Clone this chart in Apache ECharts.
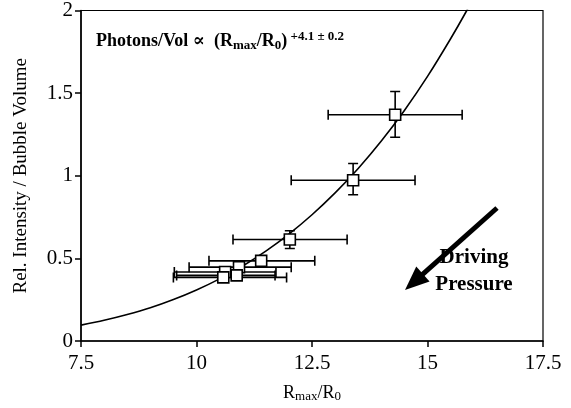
<!DOCTYPE html>
<html>
<head>
<meta charset="utf-8">
<script src="https://cdn.jsdelivr.net/npm/echarts@6/dist/echarts.min.js"></script>
<style>html,body{margin:0;padding:0;background:#fff}#c{width:571px;height:408px}</style>
</head>
<body>
<div id="c"></div>
<script>
// Measured points (Rmax/R0, relative intensity / bubble volume)
const ptX   = [14.30, 13.39, 12.02, 11.40, 10.92, 10.62, 10.87, 10.58];
const ptY   = [1.369, 0.973, 0.614, 0.485, 0.447, 0.418, 0.397, 0.385];
const xLow  = [12.85, 12.05, 10.79, 10.27, 9.84, 9.52, 9.57, 9.50];
const xHigh = [15.75, 14.73, 13.26, 12.56, 12.05, 11.72, 11.70, 11.95];
const yLow  = [1.233, 0.885, 0.560, 0.465, 0.427, 0.398, 0.377, 0.365];
const yHigh = [1.510, 1.074, 0.667, 0.505, 0.467, 0.438, 0.417, 0.405];

// Fitted power-law curve
const curveX = [7.5, 8.0, 8.5, 9.0, 9.5, 10.0, 10.5, 11.0, 11.5, 12.0, 12.5, 13.0, 13.5, 14.0, 14.5, 15.0, 15.5, 15.85, 16.0];
const curveY = [0.096, 0.125, 0.160, 0.201, 0.251, 0.309, 0.376, 0.454, 0.544, 0.647, 0.764, 0.896, 1.044, 1.210, 1.395, 1.601, 1.829, 2.0, 2.08];

const xTicks = [7.5, 10, 12.5, 15, 17.5];
const yTicks = [0, 0.5, 1, 1.5, 2];

const SERIF = '"Liberation Serif","DejaVu Serif",serif';

const chart = echarts.init(document.getElementById('c'), null, {renderer: 'canvas'});

const errData = ptX.map((x, i) => [x, ptY[i], xLow[i], xHigh[i], yLow[i], yHigh[i]]);
const ptData = ptX.map((x, i) => [x, ptY[i]]);
const curveData = curveX.map((x, i) => [x, curveY[i]]);

function renderErr(params, api) {
  const x = api.value(0), y = api.value(1);
  const pL = api.coord([api.value(2), y]);
  const pR = api.coord([api.value(3), y]);
  const pT = api.coord([x, api.value(5)]);
  const pB = api.coord([x, api.value(4)]);
  const c = 5;
  const st = {stroke: '#000', lineWidth: 1.6};
  const ln = (x1, y1, x2, y2) => ({type: 'line', shape: {x1, y1, x2, y2}, style: st});
  return {
    type: 'group',
    children: [
      ln(pL[0], pL[1], pR[0], pR[1]),
      ln(pL[0], pL[1] - c, pL[0], pL[1] + c),
      ln(pR[0], pR[1] - c, pR[0], pR[1] + c),
      ln(pT[0], pT[1], pB[0], pB[1]),
      ln(pT[0] - c, pT[1], pT[0] + c, pT[1]),
      ln(pB[0] - c, pB[1], pB[0] + c, pB[1])
    ]
  };
}

// Arrow geometry (annotation)
const tail = [497, 208], tip = [405, 290];
const dx = tip[0] - tail[0], dy = tip[1] - tail[1];
const L = Math.hypot(dx, dy), ux = dx / L, uy = dy / L;
const headLen = 24, headHalf = 10;
const base = [tip[0] - ux * headLen, tip[1] - uy * headLen];
const px = -uy, py = ux;

chart.setOption({
  animation: false,
  backgroundColor: '#fff',
  grid: {left: 81, right: 28, top: 10, bottom: 59, show: true, borderColor: '#000', borderWidth: 1.2, backgroundColor: 'transparent'},
  xAxis: {
    type: 'value', min: 7.5, max: 17.5, interval: 2.5,
    name: '{r|R}{s|max}{r|/R}{s|0}', nameLocation: 'middle', nameGap: 42,
    nameTextStyle: {rich: {
      r: {fontFamily: SERIF, fontSize: 18, color: '#000', lineHeight: 20},
      s: {fontFamily: SERIF, fontSize: 13, color: '#000', lineHeight: 12, verticalAlign: 'bottom'}
    }},
    axisLine: {onZero: false, lineStyle: {color: '#000', width: 1.5}},
    axisTick: {show: true, length: 6, inside: false, lineStyle: {color: '#000', width: 1.5}},
    splitLine: {show: false},
    axisLabel: {fontFamily: SERIF, fontSize: 21, color: '#000', margin: 12,
      formatter: v => xTicks.includes(v) ? String(v) : ''}
  },
  yAxis: {
    type: 'value', min: 0, max: 2, interval: 0.5,
    name: 'Rel. Intensity / Bubble Volume', nameLocation: 'middle', nameGap: 50,
    nameTextStyle: {fontFamily: SERIF, fontSize: 19, color: '#000'},
    axisLine: {show: true, onZero: false, lineStyle: {color: '#000', width: 1.5}},
    axisTick: {show: true, length: 6, lineStyle: {color: '#000', width: 1.5}},
    splitLine: {show: false},
    axisLabel: {fontFamily: SERIF, fontSize: 21, color: '#000', margin: 8,
      formatter: v => yTicks.includes(v) ? String(v) : ''}
  },
  series: [
    {
      type: 'line', data: curveData, smooth: 0.3, showSymbol: false, symbol: 'none',
      clip: true, lineStyle: {color: '#000', width: 1.6}, z: 2
    },
    {
      type: 'custom', data: errData, renderItem: renderErr, clip: true, z: 3,
      encode: {x: 0, y: 1}
    },
    {
      type: 'scatter', data: ptData, symbol: 'rect', symbolSize: 11, z: 4,
      itemStyle: {color: '#fff', borderColor: '#000', borderWidth: 1.6, opacity: 1}
    }
  ],
  graphic: [
    {
      type: 'text', left: 96, top: 30, z: 10,
      style: {
        text: '{b|Photons/Vol \u221D  (R}{sb|max}{b|/R}{sb|0}{b|)}{sp| +4.1 \u00B1 0.2}',
        rich: {
          b: {fontFamily: SERIF, fontWeight: 'bold', fontSize: 18, color: '#000', lineHeight: 22},
          sb: {fontFamily: SERIF, fontWeight: 'bold', fontSize: 13, color: '#000', lineHeight: 13, verticalAlign: 'bottom'},
          sp: {fontFamily: SERIF, fontWeight: 'bold', fontSize: 13, color: '#000', lineHeight: 13, verticalAlign: 'top'}
        }
      }
    },
    {
      type: 'text', x: 474, y: 271, z: 10,
      style: {
        text: 'Driving\nPressure', align: 'center', verticalAlign: 'middle',
        fontFamily: SERIF, fontWeight: 'bold', fontSize: 21, lineHeight: 27, fill: '#000'
      }
    },
    {
      type: 'line', z: 10,
      shape: {x1: tail[0], y1: tail[1], x2: base[0] + ux * 2, y2: base[1] + uy * 2},
      style: {stroke: '#000', lineWidth: 5}
    },
    {
      type: 'polygon', z: 10,
      shape: {points: [tip, [base[0] + px * headHalf, base[1] + py * headHalf], [base[0] - px * headHalf, base[1] - py * headHalf]]},
      style: {fill: '#000'}
    }
  ]
});
</script>
</body>
</html>
